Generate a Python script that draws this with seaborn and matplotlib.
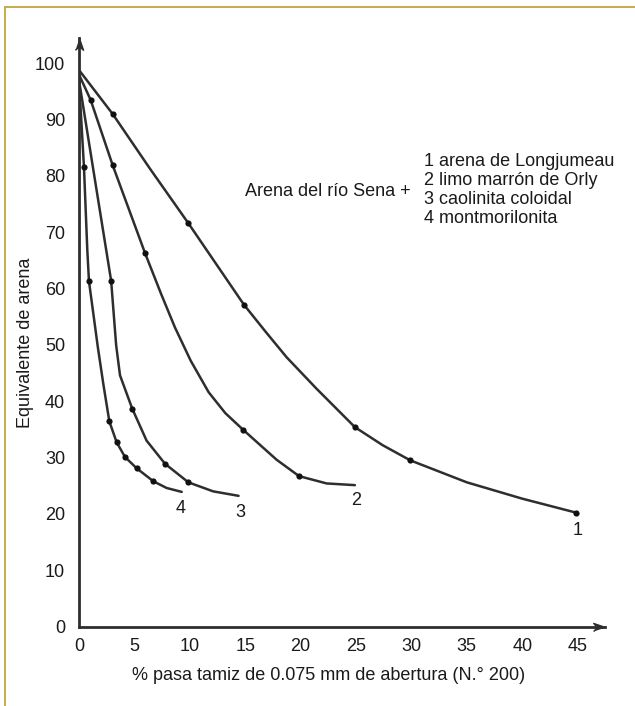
import matplotlib
matplotlib.use("Agg")
import numpy as np
import pandas as pd
import matplotlib.pyplot as plt
import seaborn as sns
from matplotlib.lines import Line2D

# ---------------- data ----------------
# curve traces
c1_x = [0, 3.04, 6.4, 9.87, 14.9, 16.9, 18.74, 21.45, 24.9, 27.4, 29.9, 35.0, 40.0, 44.9]
c1_y = [98.8, 91.0, 81.3, 71.6, 57.1, 52.2, 47.8, 42.2, 35.4, 32.2, 29.5, 25.6, 22.7, 20.2]
c2_x = [0, 1.05, 3.04, 5.96, 7.4, 8.66, 10.08, 11.7, 13.2, 14.83, 17.84, 19.86, 22.35, 24.9]
c2_y = [98.0, 93.5, 81.9, 66.3, 59.1, 53.1, 47.2, 41.6, 37.9, 34.9, 29.6, 26.7, 25.4, 25.1]
c3_x = [0, 1.3, 2.9, 3.35, 3.7, 4.8, 6.1, 7.76, 9.87, 12.1, 14.4]
c3_y = [97.0, 81.0, 61.4, 50.0, 44.6, 38.7, 33.0, 28.9, 25.6, 24.0, 23.2]
c4_x = [0, 0.45, 0.75, 0.9, 1.7, 2.2, 2.74, 3.4, 4.15, 5.2, 6.7, 7.9, 9.27]
c4_y = [97.0, 81.5, 66.8, 61.3, 49.6, 43.0, 36.4, 32.7, 30.1, 28.1, 25.8, 24.6, 23.9]

# measured points (dots)
m1_x = [3.04, 9.87, 14.9, 24.9, 29.9, 44.9]
m1_y = [91.0, 71.6, 57.1, 35.4, 29.5, 20.2]
m2_x = [1.05, 3.04, 5.96, 14.83, 19.86]
m2_y = [93.5, 81.9, 66.3, 34.9, 26.7]
m3_x = [2.9, 4.8, 7.76, 9.87]
m3_y = [61.4, 38.7, 28.9, 25.6]
m4_x = [0.45, 0.9, 2.74, 3.4, 4.15, 5.2, 6.7]
m4_y = [81.5, 61.3, 36.4, 32.7, 30.1, 28.1, 25.8]

curve_names = ["1", "2", "3", "4"]
x_ticks = [0, 5, 10, 15, 20, 25, 30, 35, 40, 45]
y_ticks = [0, 10, 20, 30, 40, 50, 60, 70, 80, 90, 100]
legend_title = "Arena del río Sena +"
legend_lines = ["1 arena de Longjumeau", "2 limo marrón de Orly",
                "3 caolinita coloidal", "4 montmorilonita"]
x_label = "% pasa tamiz de 0.075 mm de abertura (N.° 200)"
y_label = "Equivalente de arena"

# ---------------- tables ----------------
lines_df = pd.concat([
    pd.DataFrame({"x": xs, "y": ys, "curva": n})
    for xs, ys, n in zip([c1_x, c2_x, c3_x, c4_x], [c1_y, c2_y, c3_y, c4_y], curve_names)
], ignore_index=True)
pts_df = pd.concat([
    pd.DataFrame({"x": xs, "y": ys, "curva": n})
    for xs, ys, n in zip([m1_x, m2_x, m3_x, m4_x], [m1_y, m2_y, m3_y, m4_y], curve_names)
], ignore_index=True)

# ---------------- figure ----------------
sns.set_theme(style="white")
plt.rcParams["font.family"] = ["Liberation Sans", "DejaVu Sans"]

W, H = 635, 706
fig = plt.figure(figsize=(W / 100, H / 100), dpi=100)
fig.patch.set_facecolor("white")

x0_px, y0_px = 79, 626.5
ppx, ppy = 11.08, 5.632
xmax, ymax = 47.5, 104.5
ax = fig.add_axes([x0_px / W, (H - y0_px) / H, xmax * ppx / W, ymax * ppy / H])
ax.set_facecolor("white")

ink = "#2e2e2e"
sns.lineplot(data=lines_df, x="x", y="y", units="curva", estimator=None, sort=False,
             color=ink, linewidth=1.8, ax=ax, legend=False)
for ln in ax.get_lines():
    ln.set_solid_joinstyle("round")
    ln.set_solid_capstyle("round")
sns.scatterplot(data=pts_df, x="x", y="y", color="#111111", s=20, linewidth=0,
                ax=ax, legend=False, zorder=5)

ax.set_xlim(0, xmax)
ax.set_ylim(0, ymax)
ax.set_xticks(x_ticks)
ax.set_yticks(y_ticks)
ax.set_xticklabels([str(t) for t in x_ticks])
ax.set_yticklabels([str(t) for t in y_ticks])

for s in ["top", "right"]:
    ax.spines[s].set_visible(False)
for s in ["left", "bottom"]:
    ax.spines[s].set_color(ink)
    ax.spines[s].set_linewidth(2.0)

ax.tick_params(axis="both", direction="in", length=7, width=1.6, color=ink,
               labelsize=13, labelcolor="#1a1a1a")
ax.tick_params(axis="y", pad=10)
ax.tick_params(axis="x", pad=8)

# arrow heads
arrow_x = [(0, 0), (-3.2, 1.1), (-2.2, 0), (-3.2, -1.1)]
arrow_y = [(0, 0), (1.1, -3.2), (0, -2.2), (-1.1, -3.2)]
ax.plot(1, 0, marker=arrow_x, markersize=17, color=ink, transform=ax.get_yaxis_transform(),
        clip_on=False, zorder=6)
ax.plot(0, 1, marker=arrow_y, markersize=17, color=ink, transform=ax.get_xaxis_transform(),
        clip_on=False, zorder=6)

ax.set_xlabel(x_label, fontsize=13, color="#1a1a1a")
ax.set_ylabel(y_label, fontsize=13, color="#1a1a1a")
ax.xaxis.set_label_coords((329 - x0_px) / (xmax * ppx), (y0_px - 676) / (ymax * ppy))
ax.yaxis.set_label_coords((25 - x0_px) / (xmax * ppx), (y0_px - 343) / (ymax * ppy))
ax.xaxis.label.set_va("center")
ax.yaxis.label.set_va("center")

# curve numbers
for n, (tx, ty) in zip(curve_names, [(45.0, 17.1), (25.0, 22.3), (14.6, 20.3), (9.2, 20.9)]):
    ax.text(tx, ty, n, fontsize=13, ha="center", va="center", color="#1a1a1a")

# legend text
ax.text(15.0, 76.4, legend_title, fontsize=13, ha="left", va="baseline", color="#1a1a1a")
for i, t in enumerate(legend_lines):
    ax.text(31.1, 81.7 - 3.37 * i, t, fontsize=13, ha="left", va="baseline", color="#1a1a1a")

# figure border (top and left)
bc = "#c4ab4c"
fig.add_artist(Line2D([5 / W, 1], [1 - 7 / H, 1 - 7 / H], color=bc, lw=1.4,
                      transform=fig.transFigure))
fig.add_artist(Line2D([5 / W, 5 / W], [0, 1 - 7 / H], color=bc, lw=1.4,
                      transform=fig.transFigure))

fig.savefig("out.png", dpi=100, facecolor="white")
